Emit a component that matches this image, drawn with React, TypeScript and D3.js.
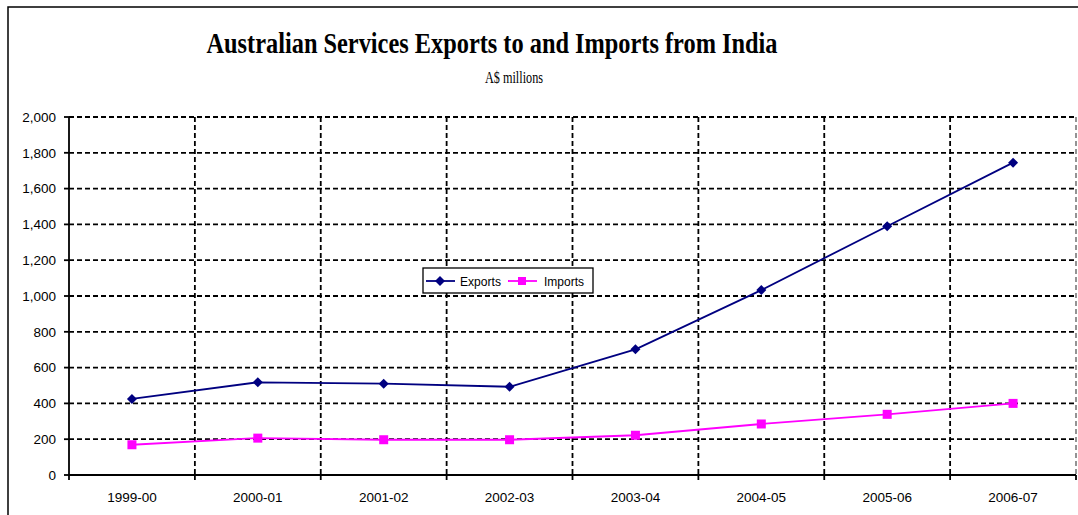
import React from "react";
import * as d3 from "d3";

const categories = ["1999-00", "2000-01", "2001-02", "2002-03", "2003-04", "2004-05", "2005-06", "2006-07"];
const exportsValues = [425, 518, 510, 493, 702, 1033, 1390, 1745];
const importsValues = [169, 206, 197, 197, 222, 285, 339, 400];
const yTicks = [0, 200, 400, 600, 800, 1000, 1200, 1400, 1600, 1800, 2000];

const W = 1078;
const H = 515;
const left = 69;
const right = 1076;
const top = 117;
const bottom = 475;

export default function App() {
  const x = d3.scaleBand<string>().domain(categories).range([left, right]).padding(0);
  const y = d3.scaleLinear().domain([0, 2000]).range([bottom, top]);
  const cx = (c: string) => (x(c) as number) + x.bandwidth() / 2;
  const line = d3
    .line<number>()
    .x((_, i) => cx(categories[i]))
    .y((d) => y(d));
  const fmt = d3.format(",");
  const boundaries = categories.map((c) => x(c) as number).concat([right]);

  return (
    <svg
      width={W}
      height={H}
      style={{ position: "absolute", left: 0, top: 0, background: "#fff" }}
      fontFamily="Arial, 'Liberation Sans', sans-serif"
    >
      <rect x={0} y={0} width={W} height={H} fill="#fff" />
      <rect x={8} y={7} width={W + 10} height={H + 10} fill="none" stroke="#000" strokeWidth={1.5} />

      <text
        x={492}
        y={53}
        textAnchor="middle"
        fontFamily="'Liberation Serif', 'Times New Roman', serif"
        fontWeight="bold"
        fontSize={29}
        textLength={571}
        lengthAdjust="spacingAndGlyphs"
      >
        Australian Services Exports to and Imports from India
      </text>
      <text
        x={514}
        y={83}
        textAnchor="middle"
        fontFamily="'Liberation Serif', 'Times New Roman', serif"
        fontSize={16}
        textLength={58}
        lengthAdjust="spacingAndGlyphs"
      >
        A$ millions
      </text>

      {/* horizontal gridlines */}
      {yTicks
        .filter((t) => t > 0)
        .map((t) => (
          <line
            key={"hg" + t}
            x1={left}
            x2={right}
            y1={y(t)}
            y2={y(t)}
            stroke="#000"
            strokeWidth={1.8}
            strokeDasharray="5,3"
          />
        ))}
      {/* vertical gridlines */}
      {boundaries.slice(1).map((b, i) => (
        <line
          key={"vg" + i}
          x1={b}
          x2={b}
          y1={top}
          y2={bottom}
          stroke={i === boundaries.length - 2 ? "#888" : "#000"}
          strokeWidth={1.8}
          strokeDasharray="5,3"
        />
      ))}

      {/* axes */}
      <line x1={left} x2={left} y1={top} y2={bottom} stroke="#000" strokeWidth={1.8} />
      <line x1={left} x2={right} y1={bottom} y2={bottom} stroke="#000" strokeWidth={1.8} />
      {yTicks.map((t) => (
        <g key={"yt" + t}>
          <line x1={left - 5} x2={left} y1={y(t)} y2={y(t)} stroke="#000" strokeWidth={1.8} />
          <text x={56} y={y(t)} dy="0.35em" textAnchor="end" fontSize={13.5}>
            {fmt(t)}
          </text>
        </g>
      ))}
      {boundaries.map((b, i) => (
        <line key={"xt" + i} x1={b} x2={b} y1={bottom} y2={bottom + 5} stroke="#000" strokeWidth={1.8} />
      ))}
      {categories.map((c) => (
        <text key={"xl" + c} x={cx(c)} y={502} textAnchor="middle" fontSize={13.5}>
          {c}
        </text>
      ))}

      {/* series */}
      <path d={line(importsValues) || ""} fill="none" stroke="#ff00ff" strokeWidth={1.8} />
      {importsValues.map((v, i) => (
        <rect key={"im" + i} x={cx(categories[i]) - 4.5} y={y(v) - 4.5} width={9} height={9} fill="#ff00ff" />
      ))}
      <path d={line(exportsValues) || ""} fill="none" stroke="#000080" strokeWidth={1.8} />
      {exportsValues.map((v, i) => (
        <path
          key={"ex" + i}
          d={`M${cx(categories[i])},${y(v) - 5}l5,5l-5,5l-5,-5z`}
          fill="#000080"
        />
      ))}

      {/* legend */}
      <g>
        <rect x={423} y={268} width={170} height={25} fill="#fff" stroke="#000" strokeWidth={1.3} />
        <line x1={426} x2={455} y1={281} y2={281} stroke="#000080" strokeWidth={1.8} />
        <path d="M440,276l5,5l-5,5l-5,-5z" fill="#000080" />
        <text x={460} y={281} dy="0.35em" fontSize={13} textLength={41} lengthAdjust="spacingAndGlyphs">
          Exports
        </text>
        <line x1={508} x2={537} y1={281} y2={281} stroke="#ff00ff" strokeWidth={1.8} />
        <rect x={518} y={277} width={8} height={8} fill="#ff00ff" />
        <text x={544} y={281} dy="0.35em" fontSize={13} textLength={40} lengthAdjust="spacingAndGlyphs">
          Imports
        </text>
      </g>
    </svg>
  );
}
